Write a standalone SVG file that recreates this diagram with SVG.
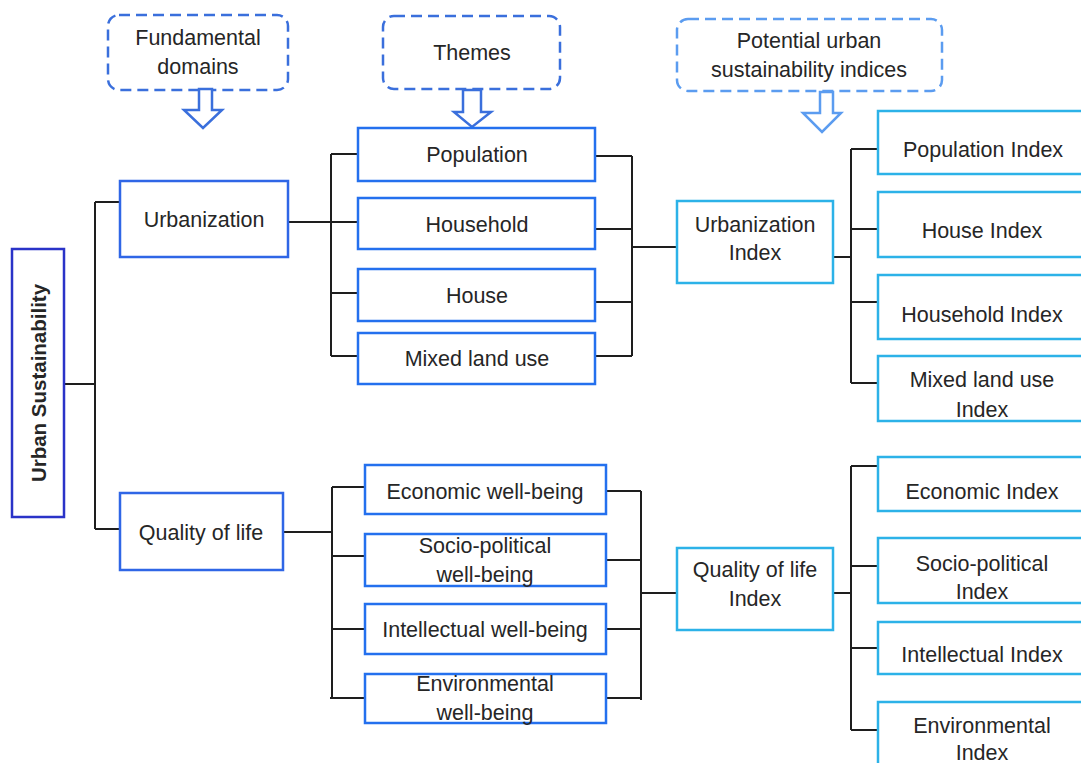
<svg xmlns="http://www.w3.org/2000/svg" width="1081" height="763" viewBox="0 0 1081 763">
  <style>
    text { font-family: "Liberation Sans", Arial, sans-serif; font-size: 21.5px; fill: #262626; text-anchor: middle; }
    .head { fill: none; stroke-width: 2.5; stroke-dasharray: 11 6; }
    .arrow { fill: #ffffff; stroke-width: 2.5; stroke-linejoin: miter; }
    .dark { stroke: #3a6fdc; }
    .light { stroke: #5b9cf0; }
    .root { fill: #ffffff; stroke: #2a33c8; stroke-width: 2.5; }
    .domain { fill: #ffffff; stroke: #2f66e6; stroke-width: 2.5; }
    .theme { fill: #ffffff; stroke: #2470ee; stroke-width: 2.5; }
    .index { fill: #ffffff; stroke: #2cb2e8; stroke-width: 2.5; }
    .root-label { font-weight: bold; font-size: 20.5px; }
    #connectors path { fill: none; stroke: #1e1e1e; stroke-width: 2; }
  </style>

  <!-- column headings -->
  <g id="head-domains">
    <rect class="head dark" x="108" y="15" width="180" height="75" rx="11"/>
    <text x="198" y="45">Fundamental</text>
    <text x="198" y="74">domains</text>
    <polygon class="arrow dark" points="199,89 212,89 212,110 222,110 203,128 184,110 199,110"/>
  </g>
  <g id="head-themes">
    <rect class="head dark" x="383" y="16" width="177" height="73" rx="11"/>
    <text x="472" y="60">Themes</text>
    <polygon class="arrow dark" points="463,90 481,90 481,112 491,112 472,127 454,112 463,112"/>
  </g>
  <g id="head-indices">
    <rect class="head light" x="677" y="19" width="265" height="72" rx="11"/>
    <text x="809" y="48">Potential urban</text>
    <text x="809" y="77">sustainability indices</text>
    <polygon class="arrow light" points="820,92 833,92 833,113 841,113 822,132 803,113 820,113"/>
  </g>

  <!-- connectors -->
  <g id="connectors">
    <path d="M64,384 H95 M95,202 V529 M95,202 H120 M95,529 H120"/>
    <path d="M288,222 H358 M331,154 V356 M331,154 H358 M331,293 H358 M331,356 H358"/>
    <path d="M595,156 H632 M595,229 H632 M595,302 H632 M595,356 H632 M632,156 V356 M632,247 H677"/>
    <path d="M833,257 H851 M851,149 V383 M851,149 H878 M851,229 H878 M851,302 H878 M851,383 H878"/>
    <path d="M283,532 H332 M332,487 V698 M332,487 H365 M332,556 H365 M332,629 H365 M330,698 H365"/>
    <path d="M606,491 H641 M606,560 H641 M606,629 H641 M606,698 H641 M641,491 V700 M641,593 H677"/>
    <path d="M833,593 H851 M851,466 V730 M851,466 H878 M851,566 H878 M851,648 H878 M851,730 H878"/>
  </g>

  <!-- root -->
  <g id="urban-sustainability">
    <rect class="root" x="12" y="249" width="52" height="268"/>
    <text class="root-label" transform="translate(46,383) rotate(-90)">Urban Sustainability</text>
  </g>

  <!-- fundamental domains -->
  <g id="urbanization">
    <rect class="domain" x="120" y="181" width="168" height="76"/>
    <text x="204" y="227">Urbanization</text>
  </g>
  <g id="quality-of-life">
    <rect class="domain" x="120" y="493" width="163" height="77"/>
    <text x="201" y="540">Quality of life</text>
  </g>

  <!-- urbanization themes -->
  <g id="population">
    <rect class="theme" x="358" y="128" width="237" height="53"/>
    <text x="477" y="162">Population</text>
  </g>
  <g id="household">
    <rect class="theme" x="358" y="198" width="237" height="51"/>
    <text x="477" y="232">Household</text>
  </g>
  <g id="house">
    <rect class="theme" x="358" y="269" width="237" height="52"/>
    <text x="477" y="303">House</text>
  </g>
  <g id="mixed-land-use">
    <rect class="theme" x="358" y="333" width="237" height="51"/>
    <text x="477" y="366">Mixed land use</text>
  </g>

  <!-- quality of life themes -->
  <g id="economic">
    <rect class="theme" x="365" y="465" width="241" height="49"/>
    <text x="485" y="499">Economic well-being</text>
  </g>
  <g id="socio-political">
    <rect class="theme" x="365" y="534" width="241" height="52"/>
    <text x="485" y="553">Socio-political</text>
    <text x="485" y="582">well-being</text>
  </g>
  <g id="intellectual">
    <rect class="theme" x="365" y="604" width="241" height="50"/>
    <text x="485" y="637">Intellectual well-being</text>
  </g>
  <g id="environmental">
    <rect class="theme" x="365" y="674" width="241" height="49"/>
    <text x="485" y="691">Environmental</text>
    <text x="485" y="720">well-being</text>
  </g>

  <!-- composite indices -->
  <g id="urbanization-index">
    <rect class="index" x="677" y="201" width="156" height="82"/>
    <text x="755" y="232">Urbanization</text>
    <text x="755" y="260">Index</text>
  </g>
  <g id="quality-of-life-index">
    <rect class="index" x="677" y="548" width="156" height="82"/>
    <text x="755" y="577">Quality of life</text>
    <text x="755" y="606">Index</text>
  </g>

  <!-- urbanization sub-indices -->
  <g id="population-index">
    <rect class="index" x="878" y="111" width="215" height="63"/>
    <text x="983" y="157">Population Index</text>
  </g>
  <g id="house-index">
    <rect class="index" x="878" y="192" width="215" height="65"/>
    <text x="982" y="238">House Index</text>
  </g>
  <g id="household-index">
    <rect class="index" x="878" y="275" width="215" height="64"/>
    <text x="982" y="322">Household Index</text>
  </g>
  <g id="mixed-land-use-index">
    <rect class="index" x="878" y="356" width="215" height="65"/>
    <text x="982" y="387">Mixed land use</text>
    <text x="982" y="417">Index</text>
  </g>

  <!-- quality of life sub-indices -->
  <g id="economic-index">
    <rect class="index" x="878" y="457" width="215" height="54"/>
    <text x="982" y="499">Economic Index</text>
  </g>
  <g id="socio-political-index">
    <rect class="index" x="878" y="538" width="215" height="65"/>
    <text x="982" y="571">Socio-political</text>
    <text x="982" y="599">Index</text>
  </g>
  <g id="intellectual-index">
    <rect class="index" x="878" y="622" width="215" height="52"/>
    <text x="982" y="662">Intellectual Index</text>
  </g>
  <g id="environmental-index">
    <rect class="index" x="878" y="702" width="215" height="80"/>
    <text x="982" y="733">Environmental</text>
    <text x="982" y="760">Index</text>
  </g>
</svg>
